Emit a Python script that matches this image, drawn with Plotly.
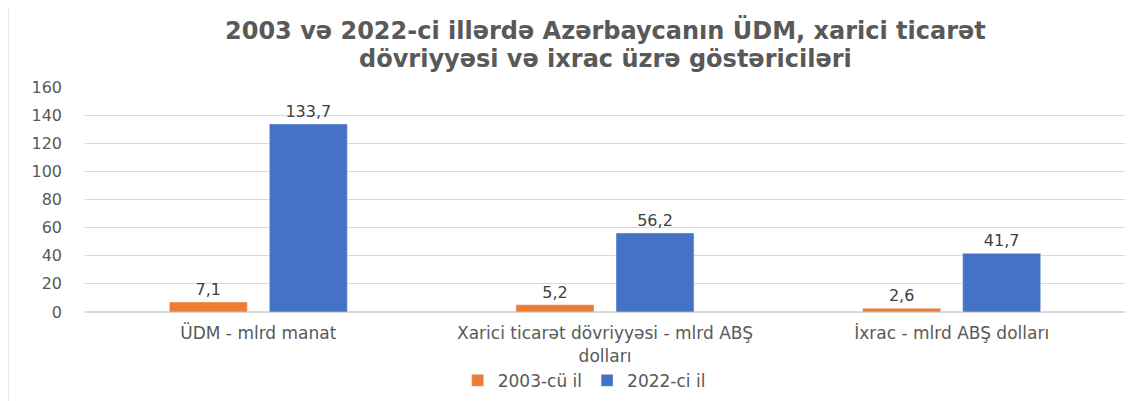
import plotly.graph_objects as go

categories = [
    "ÜDM - mlrd manat",
    "Xarici ticarət dövriyyəsi - mlrd ABŞ<br>dolları",
    "İxrac - mlrd ABŞ dolları",
]
values_2003 = [7.1, 5.2, 2.6]
values_2022 = [133.7, 56.2, 41.7]
title_lines = [
    "2003 və 2022-ci illərdə Azərbaycanın ÜDM, xarici ticarət",
    "dövriyyəsi və ixrac üzrə göstəriciləri",
]

FONT = "DejaVu Sans, Liberation Sans, Arial"

fig = go.Figure()
fig.add_trace(go.Bar(
    name="2003-cü il", x=categories, y=values_2003,
    marker_color="#ED7D31",
    texttemplate="%{y:.1f}", textposition="outside",
    textfont=dict(family=FONT, size=16, color="#404040"), cliponaxis=False,
))
fig.add_trace(go.Bar(
    name="2022-ci il", x=categories, y=values_2022,
    marker_color="#4472C4",
    texttemplate="%{y:.1f}", textposition="outside",
    textfont=dict(family=FONT, size=16, color="#404040"), cliponaxis=False,
))

# the page body adds 8px, so margins are shifted to keep the plot area in place
fig.update_layout(
    width=1147, height=401,
    margin=dict(l=77, r=30, t=79, b=96),
    paper_bgcolor="white", plot_bgcolor="white",
    separators=", ",
    font=dict(family=FONT, color="#595959", size=15),
    barmode="group", bargap=0.423, bargroupgap=0.22,
    legend=dict(orientation="h", x=0.48, xanchor="center", y=-0.3, yanchor="middle",
                font=dict(family=FONT, size=17, color="#595959")),
    showlegend=True,
)

# two title lines placed separately to keep the tight line spacing of the original
for line, ypos in zip(title_lines, [1.255, 1.124]):
    fig.add_annotation(text=line, xref="paper", yref="paper", x=0.5, y=ypos,
                       xanchor="center", yanchor="middle", showarrow=False,
                       font=dict(family=FONT, size=24, color="#595959", weight="bold"))

fig.update_yaxes(range=[0, 160], dtick=20, showgrid=True, gridcolor="#D9D9D9",
                 zeroline=True, zerolinecolor="#D9D9D9", showline=False, automargin=False,
                 tickfont=dict(family=FONT, size=16, color="#595959"), ticklabelstandoff=22)
fig.update_xaxes(showline=True, linecolor="#D9D9D9", automargin=False,
                 tickfont=dict(family=FONT, size=17, color="#595959"), ticklabelstandoff=6)

fig.add_shape(type="line", xref="paper", yref="paper", x0=-0.074, x1=-0.074,
              y0=-0.42, y1=1.4, line=dict(color="#D0D0D0", width=1))

fig.write_html("out.html")
